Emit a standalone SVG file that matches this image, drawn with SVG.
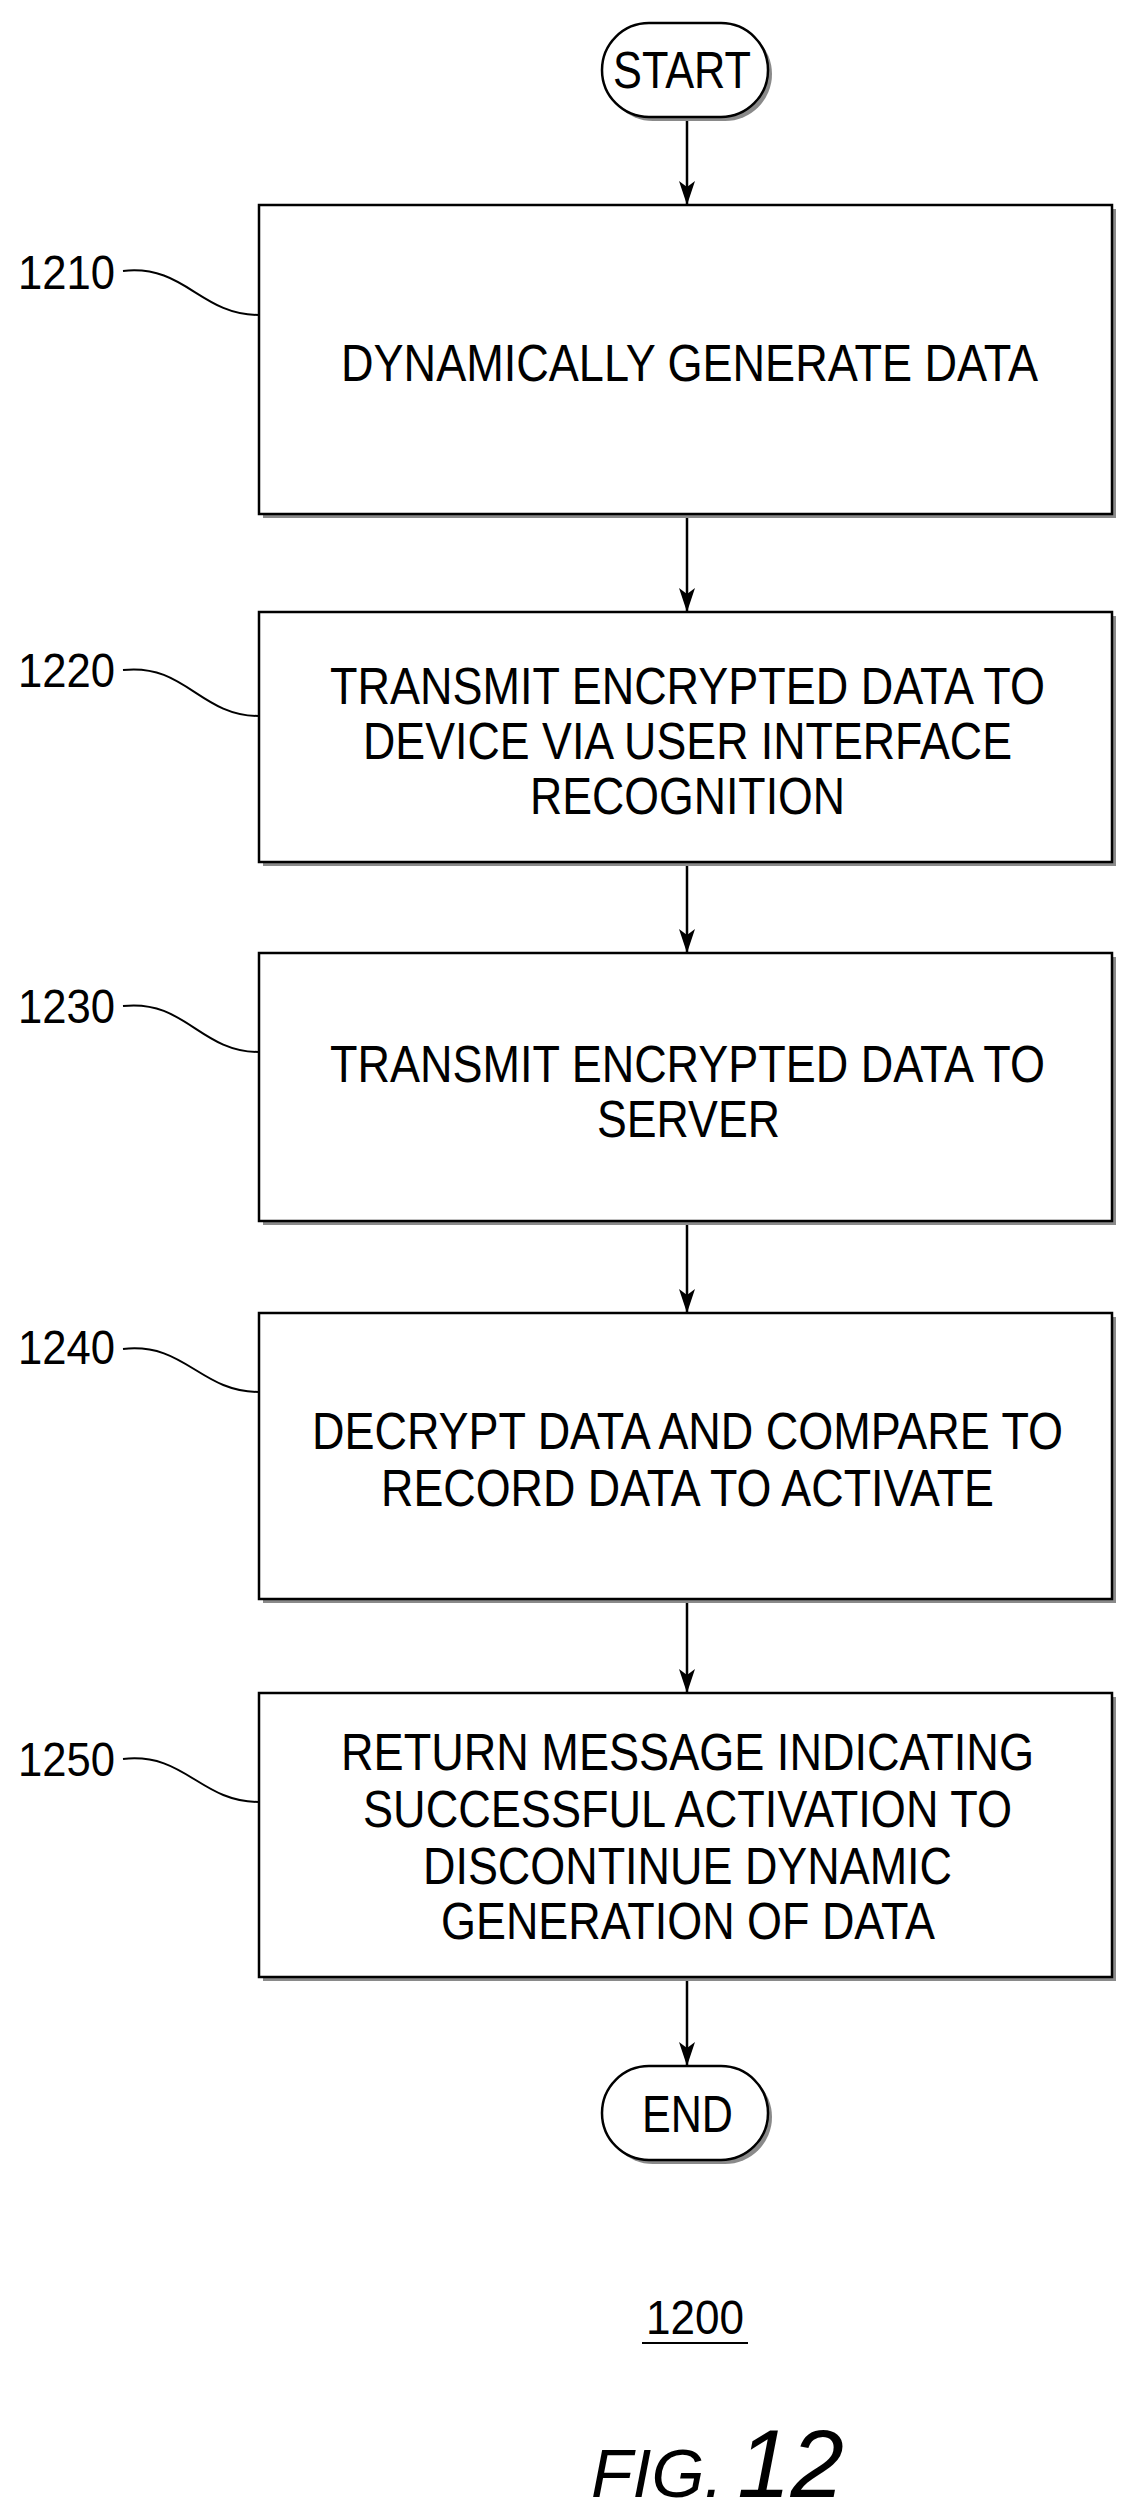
<svg xmlns="http://www.w3.org/2000/svg" width="1132" height="2517" viewBox="0 0 1132 2517">
<style>
.box{fill:#fff;stroke:#000;stroke-width:2.5}
.sh{fill:#8a8a8a}
.t{font-family:"Liberation Sans",Arial,sans-serif;font-size:51px;fill:#000;text-anchor:start}
.lb{font-family:"Liberation Sans",Arial,sans-serif;font-size:48px;fill:#000}
.ld{fill:none;stroke:#000;stroke-width:2}
.c{stroke:#000;stroke-width:2.5;fill:none}
</style>
<defs>
<marker id="ah" markerWidth="24" markerHeight="16" refX="24" refY="8" orient="auto" markerUnits="userSpaceOnUse" viewBox="0 0 24 16">
<path d="M0,0 L24,8 L0,16 L6,8 Z" fill="#000"/>
</marker>
</defs>
<g id="connectors">
<line class="c" x1="687" y1="118" x2="687" y2="205" marker-end="url(#ah)"/>
<line class="c" x1="687" y1="516" x2="687" y2="612" marker-end="url(#ah)"/>
<line class="c" x1="687" y1="864" x2="687" y2="953" marker-end="url(#ah)"/>
<line class="c" x1="687" y1="1223" x2="687" y2="1313" marker-end="url(#ah)"/>
<line class="c" x1="687" y1="1601" x2="687" y2="1693" marker-end="url(#ah)"/>
<line class="c" x1="687" y1="1979" x2="687" y2="2066" marker-end="url(#ah)"/>
</g>
<g id="start">
<rect x="606" y="27" width="166" height="94" rx="47" class="sh"/>
<rect x="602" y="23" width="166" height="94" rx="47" class="box"/>
<text class="t" x="613" y="88" textLength="138" lengthAdjust="spacingAndGlyphs">START</text>
</g>
<g id="n1210">
<rect x="263" y="209" width="853" height="309" class="sh"/>
<rect x="259" y="205" width="853" height="309" class="box"/>
<text class="t" x="341" y="381" textLength="697" lengthAdjust="spacingAndGlyphs">DYNAMICALLY GENERATE DATA</text>
<text class="lb" x="18" y="289" textLength="97" lengthAdjust="spacingAndGlyphs">1210</text>
<path class="ld" d="M123,271 C185,264 200,315 259,315"/>
</g>
<g id="n1220">
<rect x="263" y="616" width="853" height="250" class="sh"/>
<rect x="259" y="612" width="853" height="250" class="box"/>
<text class="t" x="330" y="704" textLength="715" lengthAdjust="spacingAndGlyphs">TRANSMIT ENCRYPTED DATA TO</text>
<text class="t" x="363" y="759" textLength="649" lengthAdjust="spacingAndGlyphs">DEVICE VIA USER INTERFACE</text>
<text class="t" x="530" y="814" textLength="315" lengthAdjust="spacingAndGlyphs">RECOGNITION</text>
<text class="lb" x="18" y="687" textLength="97" lengthAdjust="spacingAndGlyphs">1220</text>
<path class="ld" d="M123,670 C185,663 200,716 259,716"/>
</g>
<g id="n1230">
<rect x="263" y="957" width="853" height="268" class="sh"/>
<rect x="259" y="953" width="853" height="268" class="box"/>
<text class="t" x="330" y="1082" textLength="715" lengthAdjust="spacingAndGlyphs">TRANSMIT ENCRYPTED DATA TO</text>
<text class="t" x="597" y="1137" textLength="183" lengthAdjust="spacingAndGlyphs">SERVER</text>
<text class="lb" x="18" y="1023" textLength="97" lengthAdjust="spacingAndGlyphs">1230</text>
<path class="ld" d="M123,1006 C185,999 200,1052 259,1052"/>
</g>
<g id="n1240">
<rect x="263" y="1317" width="853" height="286" class="sh"/>
<rect x="259" y="1313" width="853" height="286" class="box"/>
<text class="t" x="312" y="1449" textLength="751" lengthAdjust="spacingAndGlyphs">DECRYPT DATA AND COMPARE TO</text>
<text class="t" x="381" y="1506" textLength="613" lengthAdjust="spacingAndGlyphs">RECORD DATA TO ACTIVATE</text>
<text class="lb" x="18" y="1364" textLength="97" lengthAdjust="spacingAndGlyphs">1240</text>
<path class="ld" d="M123,1349 C185,1342 200,1392 259,1392"/>
</g>
<g id="n1250">
<rect x="263" y="1697" width="853" height="284" class="sh"/>
<rect x="259" y="1693" width="853" height="284" class="box"/>
<text class="t" x="341" y="1770" textLength="693" lengthAdjust="spacingAndGlyphs">RETURN MESSAGE INDICATING</text>
<text class="t" x="363" y="1827" textLength="649" lengthAdjust="spacingAndGlyphs">SUCCESSFUL ACTIVATION TO</text>
<text class="t" x="423" y="1884" textLength="529" lengthAdjust="spacingAndGlyphs">DISCONTINUE DYNAMIC</text>
<text class="t" x="441" y="1939" textLength="494" lengthAdjust="spacingAndGlyphs">GENERATION OF DATA</text>
<text class="lb" x="18" y="1776" textLength="97" lengthAdjust="spacingAndGlyphs">1250</text>
<path class="ld" d="M123,1759 C185,1752 200,1802 259,1802"/>
</g>
<g id="end">
<rect x="606" y="2070" width="166" height="94" rx="47" class="sh"/>
<rect x="602" y="2066" width="166" height="94" rx="47" class="box"/>
<text class="t" x="642" y="2132" textLength="91" lengthAdjust="spacingAndGlyphs">END</text>
</g>
<g id="caption">
<text class="lb" x="646" y="2334" textLength="98" lengthAdjust="spacingAndGlyphs">1200</text>
<line x1="642" y1="2343" x2="748" y2="2343" stroke="#000" stroke-width="2"/>
<text x="591" y="2497" font-family="'Liberation Sans',Arial,sans-serif" font-style="italic" fill="#000"><tspan font-size="68">FIG.</tspan><tspan font-size="96" dx="14">12</tspan></text>
</g>
</svg>
